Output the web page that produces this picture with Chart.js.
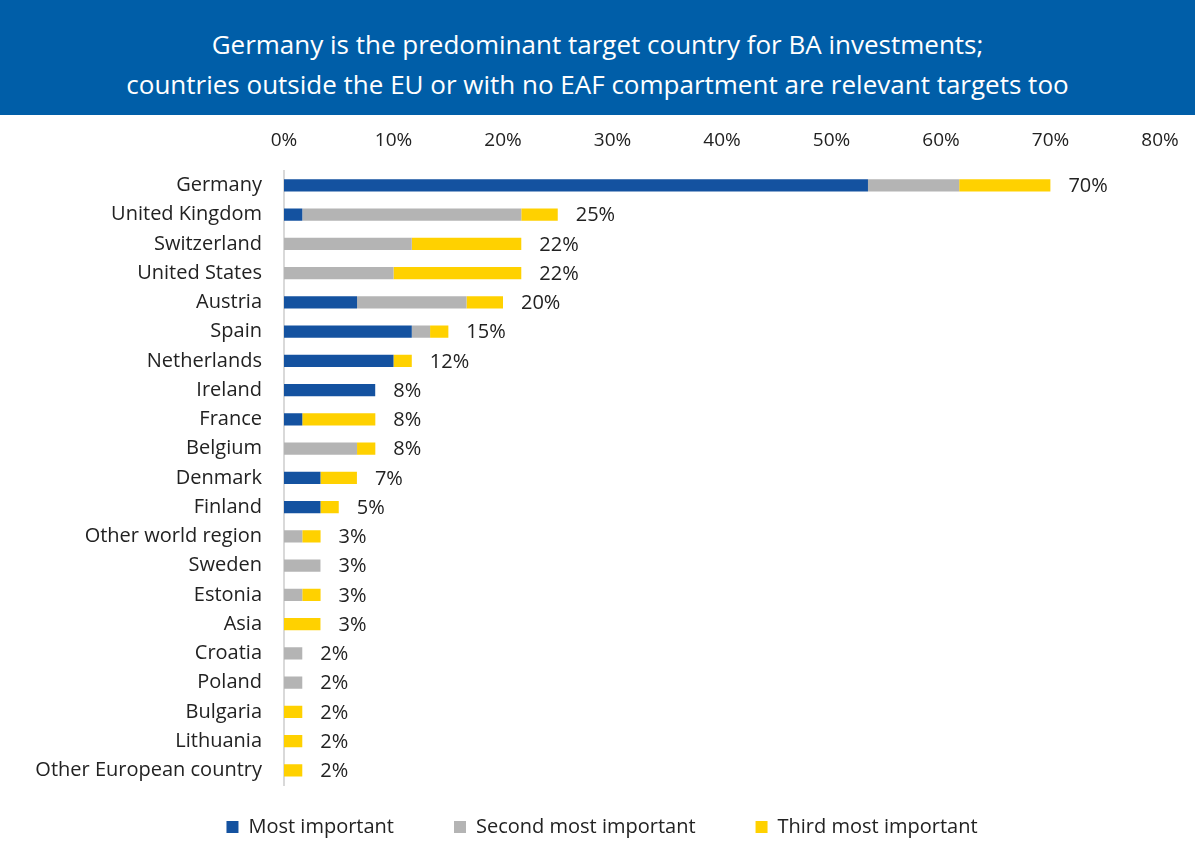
<!DOCTYPE html>
<html>
<head>
<meta charset="utf-8">
<script src="https://cdn.jsdelivr.net/npm/chart.js@4"></script>
<style>
	body { margin: 0; background: #fff; }
	#banner {
		width: 1195px; height: 115px; background: #005ea8; color: #fff;
		font-family: "Open Sans", sans-serif; font-size: 26px; line-height: 40px;
		text-align: center; box-sizing: border-box; padding-top: 24px;
	}
	#wrap { width: 1195px; height: 726px; position: relative; }
</style>
</head>
<body>
<div id="banner">Germany is the predominant target country for BA investments;<br>countries outside the EU or with no EAF compartment are relevant targets too</div>
<div id="wrap"><canvas id="targetChart"></canvas></div>
<script>
"use strict"

// share of respondents (%), n = 60
let countries = ["Germany", "United Kingdom", "Switzerland", "United States", "Austria", "Spain", "Netherlands", "Ireland", "France", "Belgium", "Denmark", "Finland", "Other world region", "Sweden", "Estonia", "Asia", "Croatia", "Poland", "Bulgaria", "Lithuania", "Other European country"]
let mostImportant = [53.33, 1.67, 0, 0, 6.67, 11.67, 10, 8.33, 1.67, 0, 3.33, 3.33, 0, 0, 0, 0, 0, 0, 0, 0, 0]
let secondMost = [8.33, 20, 11.67, 10, 10, 1.67, 0, 0, 0, 6.67, 0, 0, 1.67, 3.33, 1.67, 0, 1.67, 1.67, 0, 0, 0]
let thirdMost = [8.33, 3.33, 10, 11.67, 3.33, 1.67, 1.67, 0, 6.67, 1.67, 3.33, 1.67, 1.67, 0, 1.67, 3.33, 0, 0, 1.67, 1.67, 1.67]
let xTicks = [0, 10, 20, 30, 40, 50, 60, 70, 80]

let font = "'Open Sans', sans-serif"

let totalLabels = {
	id: "totalLabels",
	afterDatasetsDraw(chart) {
		let ctx = chart.ctx
		let xScale = chart.scales.x
		let yScale = chart.scales.y
		ctx.save()
		ctx.font = "20px " + font
		ctx.fillStyle = "#222"
		ctx.textBaseline = "middle"
		countries.forEach((name, i) => {
			let total = mostImportant[i] + secondMost[i] + thirdMost[i]
			let x = xScale.getPixelForValue(total) + 18
			let y = yScale.getPixelForValue(i)
			ctx.fillText(Math.round(total) + "%", x, y + 1)
		})
		ctx.restore()
	},
}

// keep the wide gaps between legend items without the tall legend box
let legendSpacing = {
	id: "legendSpacing",
	afterInit(chart) {
		let legend = chart.legend
		let fit = legend.fit.bind(legend)
		legend.fit = () => {
			fit()
			legend.height = 56
		}
	},
	afterLayout(chart) {
		chart.legend.top -= 28
		chart.legend.left += 22
		chart.legend.right += 22
	},
}

let ctx = document.getElementById("targetChart").getContext("2d")
let chart = new Chart(ctx, {
	type: "bar",
	data: {
		labels: countries,
		datasets: [
			{ label: "Most important", data: mostImportant, backgroundColor: "#1452a0" },
			{ label: "Second most important", data: secondMost, backgroundColor: "#b4b4b4" },
			{ label: "Third most important", data: thirdMost, backgroundColor: "#ffd100" },
		],
	},
	options: {
		indexAxis: "y",
		responsive: true,
		maintainAspectRatio: false,
		animation: false,
		barPercentage: 0.42,
		categoryPercentage: 1,
		layout: { padding: { top: 3, right: 35, bottom: 0, left: 0 } },
		plugins: {
			legend: {
				position: "bottom",
				labels: {
					font: { family: font, size: 20 },
					color: "#222",
					boxWidth: 12,
					boxHeight: 12,
					padding: 60,
				},
			},
			tooltip: { enabled: false },
		},
		scales: {
			x: {
				position: "top",
				stacked: true,
				min: 0,
				max: 80,
				afterBuildTicks: (scale) => { scale.ticks = xTicks.map((v) => ({ value: v })) },
				grid: { display: false },
				border: { display: false },
				ticks: {
					font: { family: font, size: 19 },
					color: "#222",
					callback: (v) => v + "%",
					padding: 11,
				},
			},
			y: {
				stacked: true,
				grid: { display: false },
				border: { display: true, color: "#d9d9d9", width: 2 },
				afterFit: (scale) => { scale.width = 284 },
				ticks: {
					font: { family: font, size: 20 },
					color: "#222",
					padding: 14,
				},
			},
		},
	},
	plugins: [totalLabels, legendSpacing],
})
</script>
</body>
</html>
